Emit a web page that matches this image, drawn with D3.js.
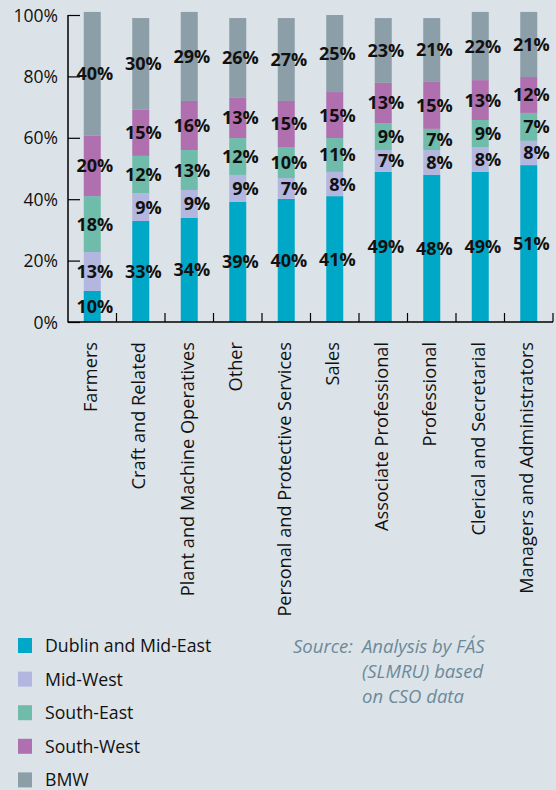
<!DOCTYPE html>
<html><head><meta charset="utf-8">
<script src="https://cdn.jsdelivr.net/npm/d3@7"></script>
<style>
html,body{margin:0;padding:0;background:#dbe3e8;}
svg{display:block;}
</style></head><body>
<svg id="chart" width="556" height="790"></svg>
<script>
const categories = ["Farmers","Craft and Related","Plant and Machine Operatives","Other","Personal and Protective Services","Sales","Associate Professional","Professional","Clerical and Secretarial","Managers and Administrators"];
const seriesNames = ["Dublin and Mid-East","Mid-West","South-East","South-West","BMW"];
// segment sizes (%) as drawn in the picture
const dublin    = [10.1,32.9,33.9,39.1,40.1,41.0,48.9,47.9,48.9,51.1];
const midWest   = [12.7, 9.1, 9.1, 8.8, 6.8, 7.9, 7.1, 8.1, 8.1, 7.9];
const southEast = [18.2,12.1,13.0,12.0,10.1,11.0, 8.8, 6.9, 8.8, 9.1];
const southWest = [19.8,15.0,16.0,13.1,15.0,15.0,13.1,15.3,13.0,11.7];
const bmw       = [40.2,29.9,29.0,26.0,27.0,25.1,21.1,20.8,22.2,21.2];
// printed labels
const dublinLabels    = ["10%","33%","34%","39%","40%","41%","49%","48%","49%","51%"];
const midWestLabels   = ["13%","9%","9%","9%","7%","8%","7%","8%","8%","8%"];
const southEastLabels = ["18%","12%","13%","12%","10%","11%","9%","7%","9%","7%"];
const southWestLabels = ["20%","15%","16%","13%","15%","15%","13%","15%","13%","12%"];
const bmwLabels       = ["40%","30%","29%","26%","27%","25%","23%","21%","22%","21%"];
const yTicks = [0,20,40,60,80,100];
const sourceLines = ["Analysis by FÁS","(SLMRU) based","on CSO data"];

const colors = ["#00a8c8","#b3b6de","#6fbcab","#b070b0","#8c9ea8"];
const seriesValues = [dublin, midWest, southEast, southWest, bmw];
const seriesLabels = [dublinLabels, midWestLabels, southEastLabels, southWestLabels, bmwLabels];
const rows = categories.map((c,i)=>{const r={cat:c,idx:i}; seriesNames.forEach((s,j)=>r[s]=seriesValues[j][i]); return r;});
const stacked = d3.stack().keys(seriesNames)(rows);

const svg = d3.select("#chart");
const font = "'Open Sans', sans-serif";
const x = d3.scaleBand().domain(categories).range([68,553]).paddingInner(0).paddingOuter(0);
const y = d3.scaleLinear().domain([0,100]).range([322,15]);
const barW = 17;

// bars
stacked.forEach((layer,j)=>{
  svg.append("g").selectAll("rect").data(layer).enter().append("rect")
    .attr("x", d=>x(d.data.cat)+x.bandwidth()/2-barW/2)
    .attr("y", d=>y(d[1]))
    .attr("width", barW)
    .attr("height", d=>y(d[0])-y(d[1]))
    .attr("fill", colors[j]);
});

// y axis
const yAxis = svg.append("g").attr("transform","translate(68,0)")
  .call(d3.axisRight(y).tickValues(yTicks).tickSize(12).tickFormat(""));
yAxis.select(".domain").remove();
yAxis.selectAll("line").attr("stroke","#000").attr("stroke-width",1.2);
svg.append("line").attr("x1",68).attr("x2",68).attr("y1",y(100)).attr("y2",y(0)+0.5).attr("stroke","#000").attr("stroke-width",1.5);
svg.append("g").selectAll("text").data(yTicks).enter().append("text")
  .attr("x",58).attr("y",d=>y(d)+6.5).attr("text-anchor","end")
  .attr("font-family",font).attr("font-size",17.5).attr("fill","#111")
  .text(d=>d+"%");

// x axis
svg.append("line").attr("x1",68).attr("x2",553).attr("y1",322).attr("y2",322).attr("stroke","#000").attr("stroke-width",1.5);
svg.append("g").selectAll("line").data(categories).enter().append("line")
  .attr("x1",d=>x(d)+x.bandwidth()).attr("x2",d=>x(d)+x.bandwidth())
  .attr("y1",322).attr("y2",313).attr("stroke","#000").attr("stroke-width",1.2);

// value labels
stacked.forEach((layer,j)=>{
  svg.append("g").selectAll("text").data(layer).enter().append("text")
    .attr("x", d=>x(d.data.cat)+x.bandwidth()/2+21)
    .attr("y", d=>(y(d[0])+y(d[1]))/2+6.5)
    .attr("text-anchor","end")
    .attr("font-family",font).attr("font-weight",700).attr("font-size",18).attr("fill","#111")
    .text(d=>seriesLabels[j][d.data.idx]);
});

// category labels
svg.append("g").selectAll("text").data(categories).enter().append("text")
  .attr("transform", d=>`translate(${x(d)+x.bandwidth()/2+4.5},342) rotate(-90)`)
  .attr("text-anchor","end")
  .attr("font-family",font).attr("font-size",18.2).attr("fill","#111")
  .text(d=>d);

// legend
const lg = svg.append("g");
seriesNames.forEach((s,i)=>{
  lg.append("rect").attr("x",18).attr("y",638+i*33.6).attr("width",14).attr("height",15).attr("fill",colors[i]);
  lg.append("text").attr("x",45).attr("y",652+i*33.6).attr("font-family",font).attr("font-size",17.7).attr("fill","#111").text(s);
});

// source
const src = svg.append("g").attr("font-family",font).attr("font-style","italic").attr("font-size",18.5).attr("fill","#6b8a99");
src.append("text").attr("x",293).attr("y",653).text("Source:");
sourceLines.forEach((t,i)=>src.append("text").attr("x",362).attr("y",653+i*25).text(t));
</script></body></html>
